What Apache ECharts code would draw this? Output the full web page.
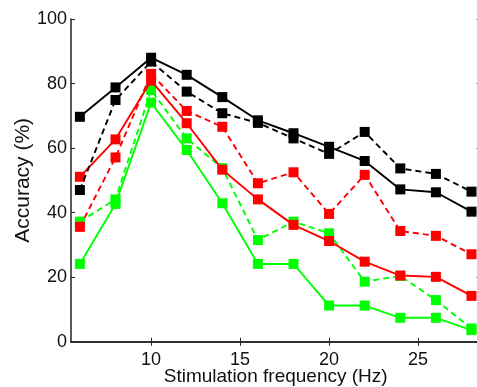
<!DOCTYPE html>
<html>
<head>
<meta charset="utf-8">
<script src="https://cdn.jsdelivr.net/npm/echarts@6/dist/echarts.min.js"></script>
<style>
html,body{margin:0;padding:0;background:#fff;overflow:hidden;width:477px;height:387px;}
#c{width:490px;height:387px;}
</style>
</head>
<body>
<div id="c"></div>
<script>
const freqs = [6, 8, 10, 12, 14, 16, 18, 20, 22, 24, 26, 28];
const blackSolid  = [69.7, 78.8, 88.0, 82.7, 75.8, 68.6, 64.6, 60.4, 56.0, 47.2, 46.3, 40.3];
const blackDashed = [47.0, 74.9, 86.8, 77.5, 70.8, 67.8, 63.0, 58.2, 65.0, 53.7, 52.0, 46.5];
const redSolid    = [51.1, 62.7, 80.9, 67.7, 53.3, 44.1, 36.2, 31.2, 24.8, 20.5, 20.1, 14.2];
const redDashed   = [35.6, 57.1, 83.0, 71.5, 66.6, 49.1, 52.5, 39.6, 51.7, 34.3, 32.8, 27.1];
const greenSolid  = [24.1, 42.7, 74.1, 59.4, 42.9, 24.1, 24.1, 11.2, 11.2, 7.4, 7.4, 3.6];
const greenDashed = [37.2, 44.1, 78.0, 63.0, 53.8, 31.5, 37.2, 33.6, 18.6, 20.4, 12.9, 4.1];
const xTicks = [10, 15, 20, 25];
const yTicks = [0, 20, 40, 60, 80, 100];

const font = 'Liberation Sans, Arial, sans-serif';
function mk(name, data, color, dashed, z) {
  return {
    name: name, type: 'line', z: z,
    data: freqs.map((f, i) => [f, data[i]]),
    symbol: 'rect', symbolSize: 10,
    itemStyle: { color: color },
    lineStyle: { color: color, width: 1.9, type: dashed ? [6, 4] : 'solid' },
    animation: false
  };
}
const chart = echarts.init(document.getElementById('c'), null, { renderer: 'canvas' });
const axisLine = { show: true, lineStyle: { color: '#222', width: 1.5 } };
chart.setOption({
  backgroundColor: '#fff',
  animation: false,
  grid: { left: 71, top: 19, right: 9.6, bottom: 45.3, containLabel: false, outerBoundsMode: 'none' },
  xAxis: [{
    type: 'value', min: 5.5, max: 28.5, position: 'bottom',
    axisLine: axisLine,
    axisTick: { show: true, inside: true, length: 4, lineStyle: { color: '#222' }, customValues: xTicks },
    axisLabel: { customValues: xTicks, color: '#111', fontSize: 18, fontFamily: font, margin: 9 },
    splitLine: { show: false },
    name: 'Stimulation frequency (Hz)', nameLocation: 'middle', nameGap: 26, nameMoveOverlap: false,
    nameTextStyle: { color: '#111', fontSize: 19, fontFamily: font }
  }, {
    type: 'value', min: 5.5, max: 28.5, position: 'top',
    axisLine: axisLine,
    axisTick: { show: true, inside: true, length: 4, lineStyle: { color: '#222' }, customValues: xTicks },
    axisLabel: { show: false, customValues: xTicks },
    splitLine: { show: false }
  }],
  yAxis: [{
    type: 'value', min: 0, max: 100, interval: 20, position: 'left',
    axisLine: axisLine,
    axisTick: { show: true, inside: true, length: 4, lineStyle: { color: '#222' } },
    axisLabel: { color: '#111', fontSize: 18, fontFamily: font, margin: 4 },
    splitLine: { show: false },
    name: 'Accuracy (%)', nameLocation: 'middle', nameGap: 37, nameRotate: 90, nameMoveOverlap: false,
    nameTextStyle: { color: '#111', fontSize: 21, fontFamily: font }
  }, {
    type: 'value', min: 0, max: 100, interval: 20, position: 'right',
    axisLine: axisLine,
    axisTick: { show: true, inside: true, length: 4, lineStyle: { color: '#222' } },
    axisLabel: { show: false },
    splitLine: { show: false }
  }],
  series: [
    mk('green dashed', greenDashed, '#00ff00', true, 2),
    mk('green solid', greenSolid, '#00ff00', false, 3),
    mk('red dashed', redDashed, '#ff0000', true, 4),
    mk('red solid', redSolid, '#ff0000', false, 5),
    mk('black dashed', blackDashed, '#000000', true, 6),
    mk('black solid', blackSolid, '#000000', false, 7)
  ]
});
</script>
</body>
</html>
